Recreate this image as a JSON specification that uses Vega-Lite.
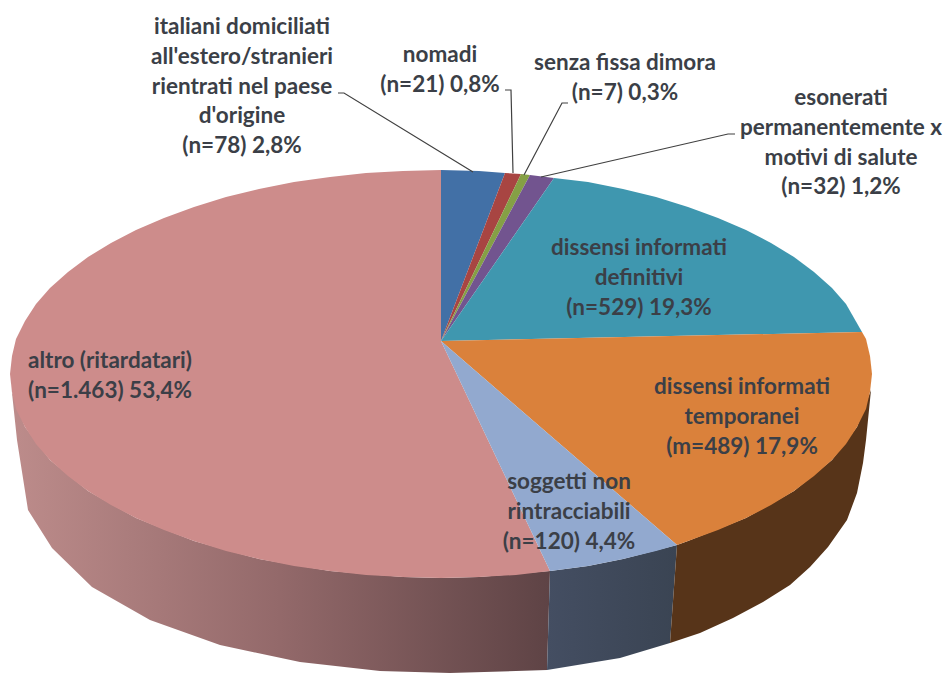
{"$schema":"https://vega.github.io/schema/vega-lite/v6.json","width":946,"height":673,"padding":0,"autosize":{"type":"none"},"background":"white","view":{"stroke":null},
"datasets":{
"walls":[
{"part":"altro","i":1,"x":10,"y":374},{"part":"altro","i":2,"x":12,"y":392},{"part":"altro","i":3,"x":25,"y":427},{"part":"altro","i":4,"x":50,"y":460},{"part":"altro","i":5,"x":88,"y":491},{"part":"altro","i":6,"x":136,"y":518},{"part":"altro","i":7,"x":194,"y":541},{"part":"altro","i":8,"x":259,"y":559},{"part":"altro","i":9,"x":330,"y":571},{"part":"altro","i":10,"x":403,"y":577},{"part":"altro","i":11,"x":441,"y":578},{"part":"altro","i":12,"x":479,"y":577},{"part":"altro","i":13,"x":550,"y":571},{"part":"altro","i":14,"x":547,"y":670},{"part":"altro","i":15,"x":450,"y":673},{"part":"altro","i":16,"x":380,"y":671},{"part":"altro","i":17,"x":300,"y":662},{"part":"altro","i":18,"x":220,"y":645},{"part":"altro","i":19,"x":150,"y":620},{"part":"altro","i":20,"x":92,"y":587},{"part":"altro","i":21,"x":52,"y":548},{"part":"altro","i":22,"x":28,"y":510},{"part":"altro","i":23,"x":17,"y":440},
{"part":"soggetti","i":1,"x":550,"y":571},{"part":"soggetti","i":2,"x":588,"y":566},{"part":"soggetti","i":3,"x":623,"y":559},{"part":"soggetti","i":4,"x":677,"y":545},{"part":"soggetti","i":5,"x":670,"y":643},{"part":"soggetti","i":6,"x":620,"y":658},{"part":"soggetti","i":7,"x":547,"y":670},
{"part":"temporanei","i":1,"x":677,"y":545},{"part":"temporanei","i":2,"x":688,"y":541},{"part":"temporanei","i":3,"x":746,"y":518},{"part":"temporanei","i":4,"x":794,"y":491},{"part":"temporanei","i":5,"x":832,"y":460},{"part":"temporanei","i":6,"x":857,"y":427},{"part":"temporanei","i":7,"x":871,"y":390},{"part":"temporanei","i":8,"x":866,"y":440},{"part":"temporanei","i":9,"x":863,"y":463},{"part":"temporanei","i":10,"x":857,"y":493},{"part":"temporanei","i":11,"x":847,"y":520},{"part":"temporanei","i":12,"x":828,"y":547},{"part":"temporanei","i":13,"x":810,"y":567},{"part":"temporanei","i":14,"x":790,"y":585},{"part":"temporanei","i":15,"x":763,"y":602},{"part":"temporanei","i":16,"x":733,"y":618},{"part":"temporanei","i":17,"x":700,"y":633},{"part":"temporanei","i":18,"x":670,"y":643}
],
"tops":[
{"slice":"altro","n":1463,"i":0,"x":441,"y":341},{"slice":"altro","n":1463,"i":1,"x":550,"y":571},{"slice":"altro","n":1463,"i":2,"x":516,"y":575},{"slice":"altro","n":1463,"i":3,"x":479,"y":577},{"slice":"altro","n":1463,"i":4,"x":441,"y":578},{"slice":"altro","n":1463,"i":5,"x":403,"y":577},{"slice":"altro","n":1463,"i":6,"x":366,"y":575},{"slice":"altro","n":1463,"i":7,"x":330,"y":571},{"slice":"altro","n":1463,"i":8,"x":294,"y":566},{"slice":"altro","n":1463,"i":9,"x":259,"y":559},{"slice":"altro","n":1463,"i":10,"x":226,"y":551},{"slice":"altro","n":1463,"i":11,"x":194,"y":541},{"slice":"altro","n":1463,"i":12,"x":164,"y":530},{"slice":"altro","n":1463,"i":13,"x":136,"y":518},{"slice":"altro","n":1463,"i":14,"x":111,"y":505},{"slice":"altro","n":1463,"i":15,"x":88,"y":491},{"slice":"altro","n":1463,"i":16,"x":68,"y":476},{"slice":"altro","n":1463,"i":17,"x":50,"y":460},{"slice":"altro","n":1463,"i":18,"x":36,"y":444},{"slice":"altro","n":1463,"i":19,"x":25,"y":427},{"slice":"altro","n":1463,"i":20,"x":16,"y":409},{"slice":"altro","n":1463,"i":21,"x":12,"y":392},{"slice":"altro","n":1463,"i":22,"x":10,"y":374},{"slice":"altro","n":1463,"i":23,"x":12,"y":356},{"slice":"altro","n":1463,"i":24,"x":16,"y":339},{"slice":"altro","n":1463,"i":25,"x":25,"y":321},{"slice":"altro","n":1463,"i":26,"x":36,"y":304},{"slice":"altro","n":1463,"i":27,"x":50,"y":288},{"slice":"altro","n":1463,"i":28,"x":68,"y":272},{"slice":"altro","n":1463,"i":29,"x":88,"y":257},{"slice":"altro","n":1463,"i":30,"x":111,"y":243},{"slice":"altro","n":1463,"i":31,"x":136,"y":230},{"slice":"altro","n":1463,"i":32,"x":164,"y":218},{"slice":"altro","n":1463,"i":33,"x":194,"y":207},{"slice":"altro","n":1463,"i":34,"x":226,"y":197},{"slice":"altro","n":1463,"i":35,"x":259,"y":189},{"slice":"altro","n":1463,"i":36,"x":294,"y":182},{"slice":"altro","n":1463,"i":37,"x":330,"y":177},{"slice":"altro","n":1463,"i":38,"x":366,"y":173},{"slice":"altro","n":1463,"i":39,"x":403,"y":171},{"slice":"altro","n":1463,"i":40,"x":441,"y":170},
{"slice":"italiani","n":78,"i":0,"x":441,"y":341},{"slice":"italiani","n":78,"i":1,"x":441,"y":170},{"slice":"italiani","n":78,"i":2,"x":479,"y":171},{"slice":"italiani","n":78,"i":3,"x":505,"y":173},
{"slice":"nomadi","n":21,"i":0,"x":441,"y":341},{"slice":"nomadi","n":21,"i":1,"x":505,"y":173},{"slice":"nomadi","n":21,"i":2,"x":521,"y":174},
{"slice":"senza","n":7,"i":0,"x":441,"y":341},{"slice":"senza","n":7,"i":1,"x":521,"y":174},{"slice":"senza","n":7,"i":2,"x":530,"y":175},
{"slice":"esonerati","n":32,"i":0,"x":441,"y":341},{"slice":"esonerati","n":32,"i":1,"x":530,"y":175},{"slice":"esonerati","n":32,"i":2,"x":554,"y":178},
{"slice":"definitivi","n":529,"i":0,"x":441,"y":341},{"slice":"definitivi","n":529,"i":1,"x":554,"y":178},{"slice":"definitivi","n":529,"i":2,"x":588,"y":182},{"slice":"definitivi","n":529,"i":3,"x":623,"y":189},{"slice":"definitivi","n":529,"i":4,"x":656,"y":197},{"slice":"definitivi","n":529,"i":5,"x":688,"y":207},{"slice":"definitivi","n":529,"i":6,"x":718,"y":218},{"slice":"definitivi","n":529,"i":7,"x":746,"y":230},{"slice":"definitivi","n":529,"i":8,"x":771,"y":243},{"slice":"definitivi","n":529,"i":9,"x":794,"y":257},{"slice":"definitivi","n":529,"i":10,"x":814,"y":272},{"slice":"definitivi","n":529,"i":11,"x":832,"y":288},{"slice":"definitivi","n":529,"i":12,"x":846,"y":304},{"slice":"definitivi","n":529,"i":13,"x":862,"y":332},
{"slice":"temporanei","n":489,"i":0,"x":441,"y":341},{"slice":"temporanei","n":489,"i":1,"x":862,"y":332},{"slice":"temporanei","n":489,"i":2,"x":866,"y":339},{"slice":"temporanei","n":489,"i":3,"x":870,"y":356},{"slice":"temporanei","n":489,"i":4,"x":872,"y":374},{"slice":"temporanei","n":489,"i":5,"x":870,"y":392},{"slice":"temporanei","n":489,"i":6,"x":866,"y":409},{"slice":"temporanei","n":489,"i":7,"x":857,"y":427},{"slice":"temporanei","n":489,"i":8,"x":846,"y":444},{"slice":"temporanei","n":489,"i":9,"x":832,"y":460},{"slice":"temporanei","n":489,"i":10,"x":814,"y":476},{"slice":"temporanei","n":489,"i":11,"x":794,"y":491},{"slice":"temporanei","n":489,"i":12,"x":771,"y":505},{"slice":"temporanei","n":489,"i":13,"x":746,"y":518},{"slice":"temporanei","n":489,"i":14,"x":718,"y":530},{"slice":"temporanei","n":489,"i":15,"x":688,"y":541},{"slice":"temporanei","n":489,"i":16,"x":677,"y":545},
{"slice":"soggetti","n":120,"i":0,"x":441,"y":341},{"slice":"soggetti","n":120,"i":1,"x":677,"y":545},{"slice":"soggetti","n":120,"i":2,"x":656,"y":551},{"slice":"soggetti","n":120,"i":3,"x":623,"y":559},{"slice":"soggetti","n":120,"i":4,"x":588,"y":566},{"slice":"soggetti","n":120,"i":5,"x":550,"y":571}
],
"leaders":[
{"slice":"italiani","i":1,"x":338,"y":93},{"slice":"italiani","i":2,"x":344,"y":93},{"slice":"italiani","i":3,"x":473,"y":172},
{"slice":"nomadi","i":1,"x":505,"y":90},{"slice":"nomadi","i":2,"x":511,"y":90},{"slice":"nomadi","i":3,"x":513,"y":173},
{"slice":"senza","i":1,"x":568,"y":103},{"slice":"senza","i":2,"x":562,"y":103},{"slice":"senza","i":3,"x":524,"y":175},
{"slice":"esonerati","i":1,"x":735,"y":134},{"slice":"esonerati","i":2,"x":728,"y":134},{"slice":"esonerati","i":3,"x":541,"y":177}
],
"labels":[
{"label":"italiani domiciliati\nall'estero/stranieri\nrientrati nel paese\nd'origine\n(n=78) 2,8%","x":242,"y":27},
{"label":"nomadi\n(n=21) 0,8%","x":440,"y":55},
{"label":"senza fissa dimora\n(n=7) 0,3%","x":625,"y":63},
{"label":"esonerati\npermanentemente x\nmotivi di salute\n(n=32) 1,2%","x":841,"y":98},
{"label":"dissensi informati\ndefinitivi\n(n=529) 19,3%","x":639,"y":248},
{"label":"dissensi informati\ntemporanei\n(m=489) 17,9%","x":742,"y":387},
{"label":"soggetti non\nrintracciabili\n(n=120) 4,4%","x":569,"y":482},
{"label":"altro (ritardatari)\n(n=1.463) 53,4%","x":110,"y":361}
]},
"encoding":{
"x":{"field":"x","type":"quantitative","scale":{"domain":[0,946]},"axis":null},
"y":{"field":"y","type":"quantitative","scale":{"domain":[673,0]},"axis":null}
},
"layer":[
{"data":{"name":"walls"},"transform":[{"filter":"datum.part==='altro'"}],
"mark":{"type":"line","strokeWidth":0,"fill":{"gradient":"linear","x1":0,"x2":1,"y1":0,"y2":0,"stops":[{"offset":0,"color":"#bd8c8b"},{"offset":0.5,"color":"#93696a"},{"offset":1,"color":"#5e4345"}]}},
"encoding":{"order":{"field":"i","type":"quantitative"}}},
{"data":{"name":"walls"},"transform":[{"filter":"datum.part==='soggetti'"}],
"mark":{"type":"line","strokeWidth":0,"fill":{"gradient":"linear","x1":0,"x2":1,"y1":0,"y2":0,"stops":[{"offset":0,"color":"#444e62"},{"offset":1,"color":"#3a4453"}]}},
"encoding":{"order":{"field":"i","type":"quantitative"}}},
{"data":{"name":"walls"},"transform":[{"filter":"datum.part==='temporanei'"}],
"mark":{"type":"line","strokeWidth":0,"fill":"#573419"},
"encoding":{"order":{"field":"i","type":"quantitative"}}},
{"data":{"name":"tops"},
"mark":{"type":"line","strokeWidth":0},
"encoding":{"fill":{"field":"slice","type":"nominal","legend":null,"scale":{"domain":["altro","italiani","nomadi","senza","esonerati","definitivi","temporanei","soggetti"],"range":["#cd8c8b","#4270a6","#a84542","#85a045","#72548f","#3f97af","#da813b","#92a9cf"]}},"detail":{"field":"slice"},"order":{"field":"i","type":"quantitative"}}},
{"data":{"name":"leaders"},
"mark":{"type":"line","stroke":"#404040","strokeWidth":1.2},
"encoding":{"detail":{"field":"slice"},"order":{"field":"i","type":"quantitative"}}},
{"data":{"name":"labels"},
"mark":{"type":"text","lineBreak":"\n","lineHeight":29.8,"font":"Lato","fontWeight":"bold","fontSize":22.5,"fill":"#3b3f47","align":"center","baseline":"middle"},
"encoding":{"text":{"field":"label"}}}
]}
